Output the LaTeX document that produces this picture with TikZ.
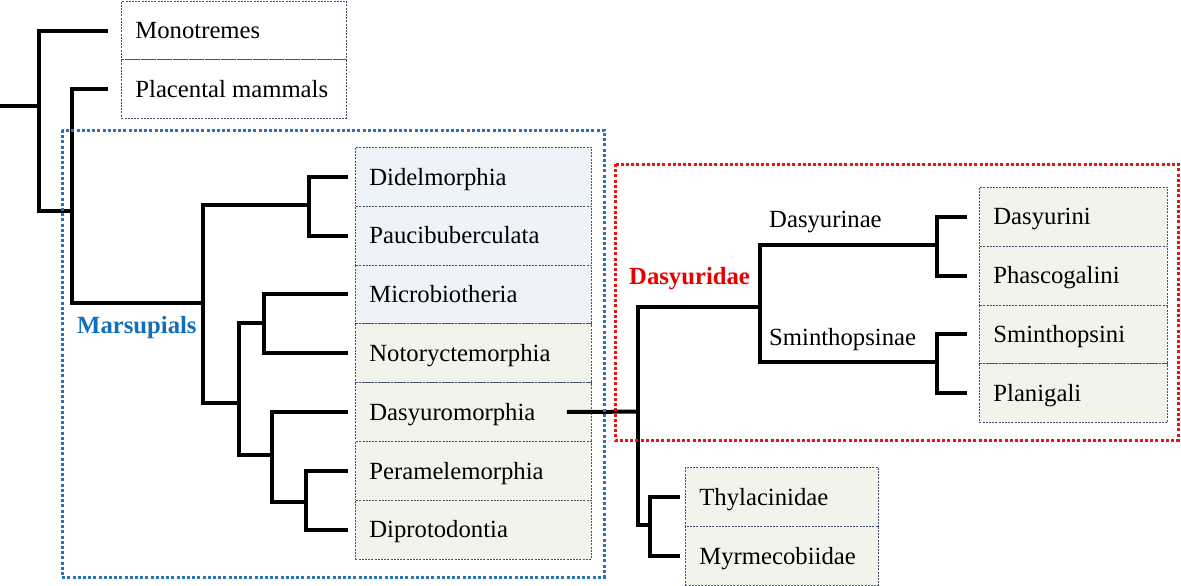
\documentclass[tikz,border=0pt]{standalone}
\usepackage{fontspec}
\setmainfont{Liberation Serif}
\definecolor{cellborder}{RGB}{68,84,106}
\definecolor{bluefill}{RGB}{238,242,249}
\definecolor{greenfill}{RGB}{242,244,236}
\definecolor{dotblue}{RGB}{40,115,185}
\definecolor{labblue}{RGB}{20,110,190}
\definecolor{dotred}{RGB}{232,20,20}
\definecolor{labred}{RGB}{230,0,0}
\newcommand{\celltxt}[2]{\makebox[#1][l]{#2}}
\begin{document}
\begin{tikzpicture}[x=1pt,y=-1pt,
  every node/.style={font=\fontsize{24.7pt}{28pt}\selectfont},
  cell/.style={draw=cellborder, line width=0.8pt, dash pattern=on 2pt off 1.2pt,
    anchor=north west, inner xsep=14pt, inner ysep=0pt, text height=16.4pt,
    text depth=0pt},
  topcell/.style={cell, fill=white, minimum height=58.5pt},
  midblue/.style={cell, fill=bluefill, minimum height=58.8pt},
  midgreen/.style={cell, fill=greenfill, minimum height=58.8pt},
  rightcell/.style={cell, fill=greenfill, minimum height=58.75pt},
  botcell/.style={cell, fill=greenfill, minimum height=59pt},
  tree/.style={line width=4pt, line join=miter},
  dotbox/.style={line width=3pt, dash pattern=on 3pt off 2.2pt},
  plain/.style={anchor=base west, inner sep=0pt}
]
\useasboundingbox (0,0) rectangle (1181,586);

% cells
\node[topcell] (mono) at (121,1) {\celltxt{197pt}{Monotremes}};
\node[topcell] (plac) at (121,59.5) {\celltxt{197pt}{Placental mammals}};

\node[midblue]  (didel) at (355,147) {\celltxt{208pt}{Didelmorphia}};
\node[midblue]  (pauci) at (355,205.8) {\celltxt{208pt}{Paucibuberculata}};
\node[midblue]  (micro) at (355,264.6) {\celltxt{208pt}{Microbiotheria}};
\node[midgreen] (noto)  at (355,323.4) {\celltxt{208pt}{Notoryctemorphia}};
\node[midgreen] (dasyuro) at (355,382.2) {\celltxt{208pt}{Dasyuromorphia}};
\node[midgreen] (peram) at (355,441) {\celltxt{208pt}{Peramelemorphia}};
\node[midgreen] (dipro) at (355,499.8) {\celltxt{208pt}{Diprotodontia}};

\node[rightcell] (dini)  at (979,187) {\celltxt{160pt}{Dasyurini}};
\node[rightcell] (phas)  at (979,245.75) {\celltxt{160pt}{Phascogalini}};
\node[rightcell] (smini) at (979,304.5) {\celltxt{160pt}{Sminthopsini}};
\node[rightcell] (plan)  at (979,363.25) {\celltxt{160pt}{Planigali}};

\node[botcell] (thyl) at (685,467) {\celltxt{165pt}{Thylacinidae}};
\node[botcell] (myrm) at (685,526) {\celltxt{165pt}{Myrmecobiidae}};

% labels
\node[plain] (dinae) at (769,227) {Dasyurinae};
\node[plain] (sminae) at (769,345) {Sminthopsinae};
\node[plain, text=labred, font=\fontsize{24.7pt}{28pt}\selectfont\bfseries] (dasyuridae) at (629,284) {Dasyuridae};
\node[plain, text=labblue, font=\fontsize{24.7pt}{28pt}\selectfont\bfseries] (marsup) at (77,333) {Marsupials};

% internal coordinates
\coordinate (rootend) at (0,106);
\coordinate (n0) at (39,106);
\coordinate (n1) at (72,211);
\coordinate (n2) at (203,303);
\coordinate (n3) at (309,205);
\coordinate (n4) at (239,403);
\coordinate (n5) at (264,323);
\coordinate (n6) at (272,455);
\coordinate (n7) at (306,502);
\coordinate (dmout) at ([xshift=-25pt]dasyuro.east);
\coordinate (d0) at (638,411.6);
\coordinate (d1) at (760,307);
\coordinate (d2) at (650,525);
\coordinate (d3) at (937,245);
\coordinate (d4) at (937,362);

% tree
\draw[tree] (rootend) -- (n0);
\draw[tree] ([xshift=-13pt]mono.west) -| (n0) |- (n1);
\draw[tree] ([xshift=-13pt]plac.west) -| (n1) |- (n2);
\draw[tree] (n3) -| (n2) |- (n4);
\draw[tree] ([xshift=-7pt]didel.west) -| (n3) |- ([xshift=-7pt]pauci.west);
\draw[tree] (n5) -| (n4) |- (n6);
\draw[tree] ([xshift=-7pt]micro.west) -| (n5) |- ([xshift=-7pt]noto.west);
\draw[tree] ([xshift=-7pt]dasyuro.west) -| (n6) |- (n7);
\draw[tree] ([xshift=-7pt]peram.west) -| (n7) |- ([xshift=-7pt]dipro.west);

\draw[tree] (dmout) -- (d0);
\draw[tree] (d1) -| (d0) |- (d2);
\draw[tree] (d3) -| (d1) |- (d4);
\draw[tree] ([xshift=-12pt]dini.west) -| (d3) |- ([xshift=-12pt]phas.west);
\draw[tree] ([xshift=-12pt]smini.west) -| (d4) |- ([xshift=-12pt]plan.west);
\draw[tree] ([xshift=-5pt]thyl.west) -| (d2) |- ([xshift=-5pt]myrm.west);

% dotted group boxes
\draw[dotbox, draw=dotblue] (62,130) rectangle (604,577);
\draw[dotbox, draw=dotred] (615,164) rectangle (1178,440);
\end{tikzpicture}
\end{document}
